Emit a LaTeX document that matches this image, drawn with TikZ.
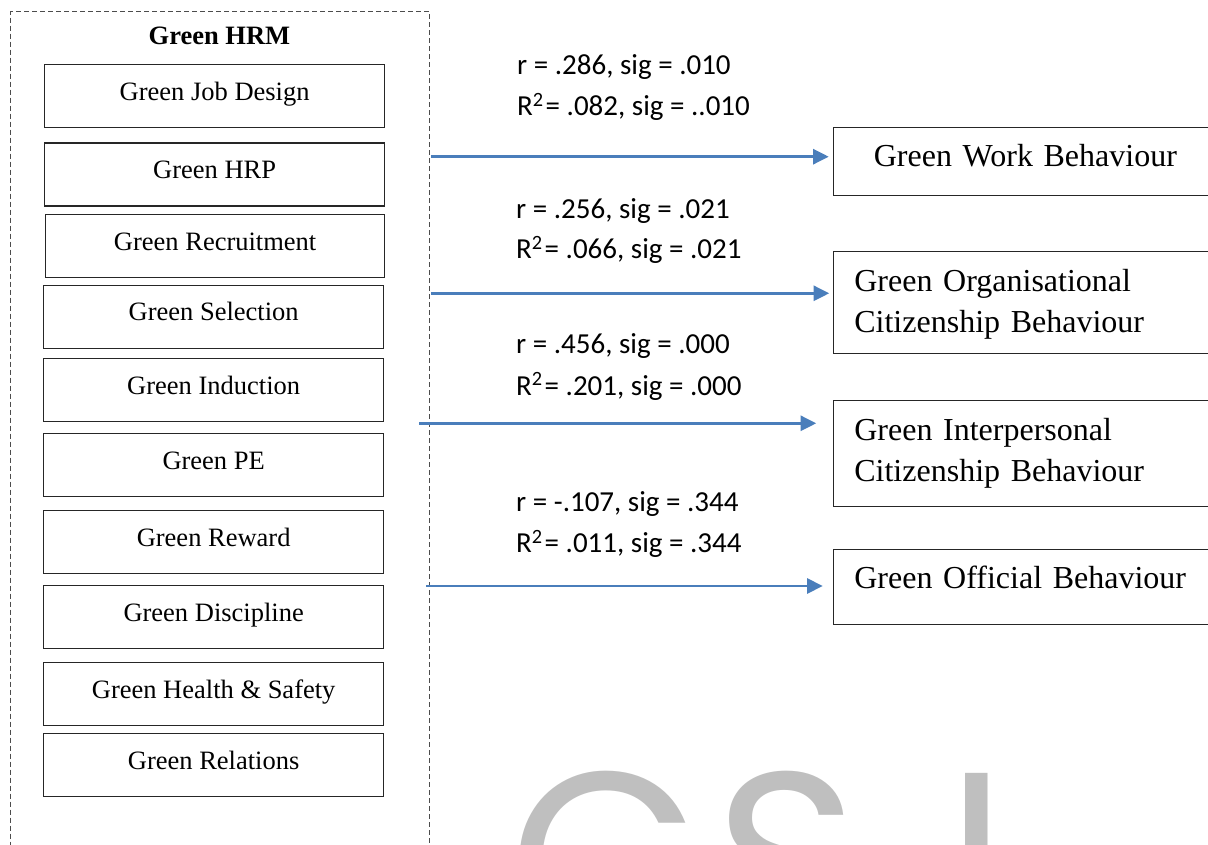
\documentclass[tikz,border=0pt]{standalone}
\usepackage{fontspec}
\setmainfont{Liberation Serif}
\newfontfamily\calib{Carlito}
\newfontfamily\wmfont{Poppins}
\usetikzlibrary{arrows.meta}
\definecolor{arrblue}{HTML}{4A7EBB}
\definecolor{wmgray}{HTML}{BFBFBF}
\begin{document}
\begin{tikzpicture}[x=1pt,y=-1pt,
  hrbox/.style={draw=black!85, line width=1.3pt, inner sep=0pt, minimum width=340pt,
    text height=35.5pt, text depth=27.5pt, anchor=north west,
    font=\fontsize{26.5}{30}\selectfont},
  outbox/.style={draw=black!85, line width=1.3pt, anchor=north west, inner ysep=0pt,
    inner xsep=21pt, text width=380pt, align=left,
    font=\fontsize{32}{40.7}\selectfont},
  lab/.style={anchor=base west, inner sep=0pt, font=\calib\fontsize{29}{34}\selectfont},
  conn/.style={draw=arrblue, line width=2.5pt, -{Triangle[length=15.5pt,width=15pt]}},
  wm/.style={anchor=base west, inner sep=0pt, text=wmgray, font=\wmfont\fontsize{247}{247}\selectfont}]
\useasboundingbox (0,0) rectangle (1208,845);
\clip (0,0) rectangle (1208,845);

% watermark
\node[wm] (wmc) at (509,945) {C};
\node[wm] (wms) at (714,945) {S};
\node[wm] (wmi) at (946,945) {I};

% Green HRM frame
\node[draw=black!70, dash pattern=on 5pt off 3pt, line width=1.2pt, anchor=north west,
      minimum width=419pt, minimum height=900pt, inner sep=0pt] (hrm) at (10,11) {};
\node[anchor=base, inner sep=0pt, font=\bfseries\fontsize{26.5}{30}\selectfont] (hrmtitle) at (219.5,45) {Green HRM};

\node[hrbox] (jd)  at (44,64)    {Green Job Design};
\node[hrbox] (hrp) at (44,142.5) {Green HRP};
\node[hrbox, minimum width=339pt] (rec) at (45,214) {Green Recruitment};
\node[hrbox] (sel) at (43,284.7) {Green Selection};
\node[hrbox] (ind) at (43,358)   {Green Induction};
\node[hrbox] (pe)  at (43,433)   {Green PE};
\node[hrbox] (rew) at (43,510)   {Green Reward};
\node[hrbox] (dis) at (43,585)   {Green Discipline};
\node[hrbox] (hs)  at (43,662)   {Green Health \& Safety};
\node[hrbox] (rel) at (43,733)   {Green Relations};

% outcome boxes
\node[outbox, inner xsep=40.5pt, text width=342pt, text height=38.7pt, text depth=29.3pt] (wb) at (832.7,127) {Green Work Behaviour};
\node[outbox, text height=40pt, text depth=62.3pt] (ocb) at (832.7,250.7) {Green Organisational\\Citizenship Behaviour};
\node[outbox, text height=40pt, text depth=65.7pt] (icb) at (832.7,400) {Green Interpersonal\\Citizenship Behaviour};
\node[outbox, text height=39.6pt, text depth=35.7pt] (off) at (832.7,548.7) {Green Official Behaviour};

% connectors
\coordinate (y1) at (0,156.7);
\coordinate (y2) at (0,293.3);
\coordinate (y3) at (0,423.3);
\coordinate (y4) at (0,586);
\draw[conn] ([xshift=1pt]hrm.east |- y1) -- ([xshift=-4pt]wb.west |- y1);
\draw[conn] ([xshift=1pt]hrm.east |- y2) -- ([xshift=-3.5pt]ocb.west |- y2);
\draw[conn] ([xshift=-11pt]hrm.east |- y3) -- ([xshift=-16.5pt]icb.west |- y3);
\draw[conn] ([xshift=-4pt]hrm.east |- y4) -- ([xshift=-10pt]off.west |- y4);

% statistics
\node[lab] (l1a) at (517,75)    {r = .286, sig = .010};
\node[lab] (l1b) at (517,115.5) {R\textsuperscript{2}\hspace{2pt}= .082, sig = ..010};
\node[lab] (l2a) at (516,218.3) {r = .256, sig = .021};
\node[lab] (l2b) at (516,258.3) {R\textsuperscript{2}\hspace{2pt}= .066, sig = .021};
\node[lab] (l3a) at (516,353.3) {r = .456, sig = .000};
\node[lab] (l3b) at (516,395)   {R\textsuperscript{2}\hspace{2pt}= .201, sig = .000};
\node[lab] (l4a) at (516,511.7) {r = -.107, sig = .344};
\node[lab] (l4b) at (516,552.7) {R\textsuperscript{2}\hspace{2pt}= .011, sig = .344};
\end{tikzpicture}
\end{document}
